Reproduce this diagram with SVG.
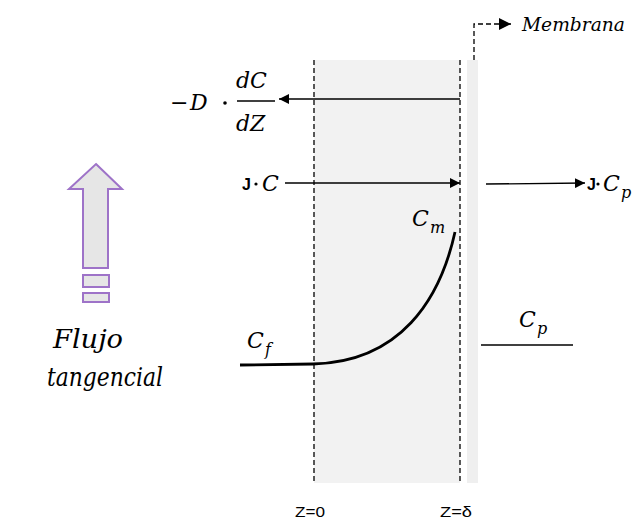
<svg xmlns="http://www.w3.org/2000/svg" width="641" height="523" viewBox="0 0 641 523">
<style>
.m{font-family:"DejaVu Serif","Liberation Serif",serif;font-style:italic;fill:#000}
.s{font-family:"Liberation Sans",Arial,sans-serif;fill:#000}
.dash{stroke:#000;stroke-width:1.3;stroke-dasharray:5,3;fill:none}
.ln{stroke:#000;stroke-width:1.3;fill:none}
</style>
<defs>
<marker id="ah" viewBox="0 0 10 10" refX="10" refY="5" markerWidth="10" markerHeight="10" markerUnits="userSpaceOnUse" orient="auto">
<path d="M0,0 L10,5 L0,10 Z" fill="#000"/>
</marker>
<marker id="ah2" viewBox="0 0 10 10" refX="10" refY="5" markerWidth="12" markerHeight="12" markerUnits="userSpaceOnUse" orient="auto">
<path d="M0,0 L10,5 L0,10 Z" fill="#000"/>
</marker>
</defs>
<rect width="641" height="523" fill="#fff"/>
<g id="boundary-layer">
<rect x="314" y="60" width="146" height="423" fill="#f2f2f2"/>
<line class="dash" x1="314" y1="60" x2="314" y2="483"/>
<line class="dash" x1="460" y1="60" x2="460" y2="483"/>
</g>
<g id="membrane">
<rect x="467" y="60" width="11" height="423" fill="#efefef"/>
<polyline class="dash" points="474,60 474,24 500,24"/>
<text class="m" x="522" y="31" font-size="18" textLength="103" lengthAdjust="spacingAndGlyphs">Membrana</text>
</g>
<g id="tangential-flow">
<path d="M96,164 L122,189 L108,189 L108,268 L83,268 L83,189 L69,189 Z" fill="#e6e6e6" stroke="#9e73c8" stroke-width="2" stroke-linejoin="miter"/>
<rect x="83" y="275" width="26" height="12" fill="#e6e6e6" stroke="#9e73c8" stroke-width="2"/>
<rect x="83" y="293" width="26" height="9" fill="#e6e6e6" stroke="#9e73c8" stroke-width="2"/>
<text class="m" x="53" y="348" font-size="26" textLength="70" lengthAdjust="spacingAndGlyphs">Flujo</text>
<text class="m" x="47" y="386" font-size="26" textLength="116" lengthAdjust="spacingAndGlyphs">tangencial</text>
</g>
<g id="diffusion-label">
<text class="m" x="170" y="110" font-size="22" font-style="normal">−</text>
<text class="m" x="190" y="110" font-size="22">D</text>
<circle cx="225" cy="103" r="1.8" fill="#000"/>
<text class="m" x="236" y="88" font-size="22">dC</text>
<line x1="237" y1="101" x2="275" y2="101" stroke="#000" stroke-width="1.3"/>
<text class="m" x="236" y="131" font-size="22">dZ</text>
</g>
<g id="convective-label">
<text class="s" x="242" y="190" font-size="16" font-weight="bold">J</text>
<circle cx="256" cy="184" r="1.6" fill="#000"/>
<text class="m" x="262" y="191" font-size="22">C</text>
</g>
<g id="permeate-flux-label">
<text class="s" x="587" y="190" font-size="16" font-weight="bold">J</text>
<circle cx="598" cy="184" r="1.6" fill="#000"/>
<text class="m" x="603" y="191" font-size="22">C</text>
<text class="m" x="621" y="198" font-size="16">p</text>
</g>
<g id="Cm">
<text class="m" x="412" y="226" font-size="22">C</text>
<text class="m" x="430" y="233" font-size="16">m</text>
</g>
<g id="Cf">
<text class="m" x="247" y="348" font-size="22">C</text>
<text class="m" x="265" y="355" font-size="16">f</text>
</g>
<g id="Cp">
<text class="m" x="519" y="327" font-size="22">C</text>
<text class="m" x="537" y="334" font-size="16">p</text>
<line class="ln" x1="481" y1="345" x2="573" y2="345"/>
</g>
<g id="axis-labels">
<text class="s" x="295" y="517" font-size="15" textLength="30" lengthAdjust="spacingAndGlyphs">Z=0</text>
<text class="s" x="440" y="517" font-size="15" textLength="32" lengthAdjust="spacingAndGlyphs">Z=δ</text>
</g>
<g id="connectors">
<line class="ln" x1="460" y1="99" x2="279" y2="99" marker-end="url(#ah)"/>
<line class="ln" x1="285" y1="183" x2="460" y2="183" marker-end="url(#ah)"/>
<line class="ln" x1="486" y1="184" x2="585" y2="183" marker-end="url(#ah)"/>
<line class="dash" x1="500" y1="24" x2="511" y2="24" marker-end="url(#ah2)"/>
<path d="M240,365 L313,364 C400,362 440,300 455,232" fill="none" stroke="#000" stroke-width="2.8"/>
</g>
</svg>
